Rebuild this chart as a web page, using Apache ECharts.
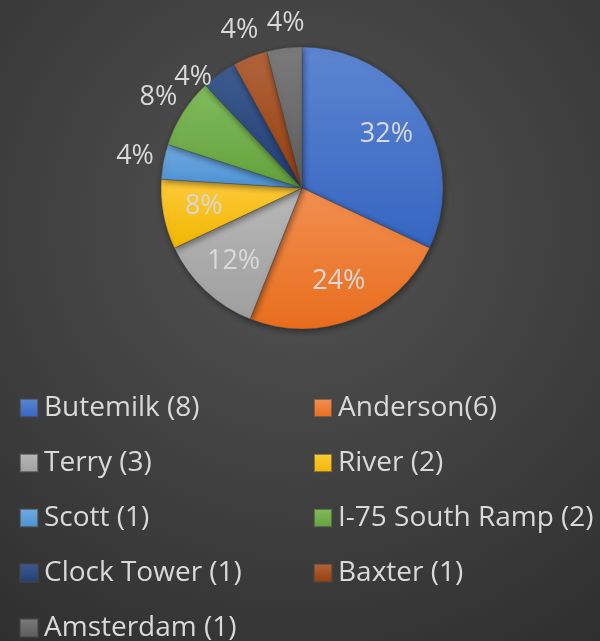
<!DOCTYPE html>
<html>
<head>
<meta charset="utf-8">
<script src="https://cdn.jsdelivr.net/npm/echarts@6/dist/echarts.min.js"></script>
<style>
  html, body { margin: 0; padding: 0; }
  #chart { width: 600px; height: 641px; }
</style>
</head>
<body>
<div id="chart"></div>
<script>
// data
const categories = ['Butemilk (8)', 'Anderson(6)', 'Terry (3)', 'River (2)', 'Scott (1)',
  'I-75 South Ramp (2)', 'Clock Tower (1)', 'Baxter (1)', 'Amsterdam (1)']
const counts = [8, 6, 3, 2, 1, 2, 1, 1, 1]
// which slices carry their percentage inside the pie
const insideLabel = [true, true, true, true, false, false, false, false, false]

// office-like palette, lighter at the top of each slice
const sliceTop = ['#5d85d1', '#f28f52', '#b8b8b8', '#ffca3c', '#72aade', '#80bb5e', '#3f5c8f', '#b2643c', '#7b7b7b']
const sliceBottom = ['#3565c1', '#e86d1c', '#9f9f9f', '#efb700', '#4b91d4', '#64a13a', '#1f3d74', '#933e0b', '#5c5c5c']

const textColor = '#d9d9d9'
const font = '"Open Sans", "Liberation Sans", sans-serif'

const grad = (i) => new echarts.graphic.LinearGradient(0, 0, 0, 1, [
  { offset: 0, color: sliceTop[i] },
  { offset: 1, color: sliceBottom[i] },
])

const chart = echarts.init(document.getElementById('chart'))

const center = [302, 188]
const labelBase = {
  color: textColor,
  fontFamily: font,
  fontSize: 27,
}

const legendBase = {
  orient: 'vertical',
  top: 393,
  height: 270,
  padding: 0,
  itemWidth: 18,
  itemHeight: 18,
  itemGap: 25,
  icon: 'rect',
  selectedMode: false,
  textStyle: { color: textColor, fontFamily: font, fontSize: 28, lineHeight: 30, padding: [0, 0, 0, 1] },
}

const option = {
  backgroundColor: {
    type: 'radial',
    x: 0.5,
    y: 0.35,
    r: 0.85,
    colorStops: [
      { offset: 0, color: '#535353' },
      { offset: 1, color: '#2f2f2f' },
    ],
  },
  legend: [
    { ...legendBase, left: 19, data: categories.filter((_, i) => i % 2 === 0) },
    { ...legendBase, left: 313, data: categories.filter((_, i) => i % 2 === 1) },
  ],
  series: [
    {
      // the pie itself
      type: 'pie',
      center,
      radius: [0, 141],
      startAngle: 90,
      animation: false,
      label: { show: false },
      labelLine: { show: false },
      itemStyle: {
        borderColor: 'rgba(70, 70, 70, 0.6)',
        borderWidth: 0.6,
        shadowBlur: 6,
        shadowOffsetX: 1,
        shadowOffsetY: 2,
        shadowColor: 'rgba(0, 0, 0, 0.45)',
      },
      data: categories.map((name, i) => ({
        name,
        value: counts[i],
        itemStyle: { color: grad(i) },
      })),
    },
    {
      // invisible copy that only places the inner percentages
      type: 'pie',
      center,
      radius: [0, 194],
      startAngle: 90,
      silent: true,
      animation: false,
      percentPrecision: 0,
      itemStyle: { color: 'transparent' },
      label: { ...labelBase, position: 'inside', formatter: '{d}%' },
      labelLine: { show: false },
      data: categories.map((name, i) => ({
        name,
        value: counts[i],
        label: { show: insideLabel[i] },
      })),
    },
    {
      // invisible ring outside the pie for the small slices
      type: 'pie',
      center,
      radius: [141, 193],
      startAngle: 90,
      silent: true,
      animation: false,
      percentPrecision: 0,
      itemStyle: { color: 'transparent' },
      label: { ...labelBase, position: 'inside', formatter: '{d}%' },
      labelLine: { show: false },
      labelLayout: (p) => {
        if (p.dataIndex === 6) return { dx: -9, dy: 27 }
        if (p.dataIndex === 8) return { dx: 5, dy: 4 }
        return {}
      },
      data: categories.map((name, i) => ({
        name,
        value: counts[i],
        label: { show: !insideLabel[i] },
      })),
    },
  ],
}

chart.setOption(option)

window.addEventListener('resize', () => {
  chart.resize()
})
</script>
</body>
</html>
